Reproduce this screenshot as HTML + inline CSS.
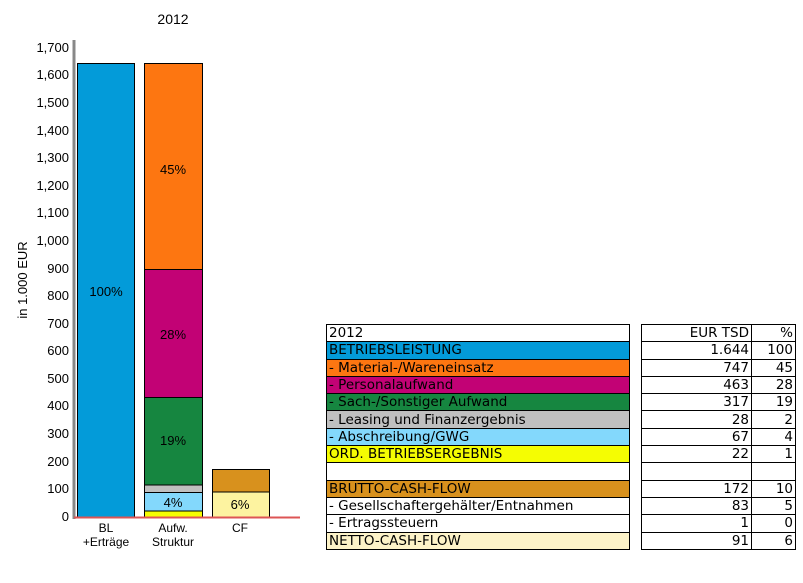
<!DOCTYPE html>
<html><head><meta charset="utf-8"><style>
body{margin:0;background:#fff;width:803px;height:583px;overflow:hidden;font-family:"Liberation Sans",sans-serif}
svg{position:absolute;left:0;top:0}
table{position:absolute;border-collapse:collapse;font-family:"DejaVu Sans","Liberation Sans",sans-serif;font-size:13.5px}
td{border:1px solid #000;height:16.3px;padding:0 2px;line-height:14px;white-space:nowrap;overflow:hidden}
.r td{text-align:right}
</style></head><body>
<svg width="803" height="583" font-family="Liberation Sans, sans-serif" font-size="12">
<text x="173" y="24" text-anchor="middle" font-size="14">2012</text>
<text transform="translate(27,280) rotate(-90)" text-anchor="middle" font-size="13">in 1.000 EUR</text>
<g text-anchor="end" font-size="13">
<text x="69" y="521">0</text><text x="69" y="493">100</text><text x="69" y="466">200</text><text x="69" y="438">300</text><text x="69" y="410">400</text><text x="69" y="383">500</text><text x="69" y="355">600</text><text x="69" y="328">700</text><text x="69" y="300">800</text><text x="69" y="273">900</text><text x="69" y="245">1,000</text><text x="69" y="217">1,100</text><text x="69" y="190">1,200</text><text x="69" y="162">1,300</text><text x="69" y="135">1,400</text><text x="69" y="107">1,500</text><text x="69" y="79">1,600</text><text x="69" y="52">1,700</text>
</g>
<g stroke="#000" stroke-width="1">
<rect x="77.5" y="63.5" width="57" height="453.5" fill="#039bd9"/>
<rect x="144.5" y="63.5" width="58" height="206" fill="#fd7611"/>
<rect x="144.5" y="269.5" width="58" height="128" fill="#c20275"/>
<rect x="144.5" y="397.5" width="58" height="87.5" fill="#168640"/>
<rect x="144.5" y="485" width="58" height="7.5" fill="#c0c0c0"/>
<rect x="144.5" y="492.5" width="58" height="18.5" fill="#83d8fc"/>
<rect x="144.5" y="511" width="58" height="6" fill="#f5fd02"/>
<rect x="212.5" y="469.5" width="57" height="22.5" fill="#d8911d"/>
<rect x="212.5" y="492" width="57" height="25" fill="#fdf3a0"/>
</g>
<line x1="74" y1="40" x2="74" y2="519" stroke="#888" stroke-width="3"/>
<line x1="74" y1="517.5" x2="300" y2="517.5" stroke="#d55" stroke-width="2"/>
<g text-anchor="middle" font-size="13">
<text x="106" y="296">100%</text><text x="173" y="174">45%</text><text x="173" y="339">28%</text><text x="173" y="445">19%</text><text x="173" y="507">4%</text><text x="240" y="509">6%</text>
<text x="106" y="532" font-size="12">BL</text><text x="106" y="546" font-size="12">+Erträge</text>
<text x="173" y="532" font-size="12">Aufw.</text><text x="173" y="546" font-size="12">Struktur</text>
<text x="240" y="532" font-size="12">CF</text>
</g>
</svg>
<table style="left:326px;top:324px;width:304px">
<tr><td>2012</td></tr>
<tr><td style="background:#039bd9">BETRIEBSLEISTUNG</td></tr>
<tr><td style="background:#fd7611">- Material-/Wareneinsatz</td></tr>
<tr><td style="background:#c20275">- Personalaufwand</td></tr>
<tr><td style="background:#168640">- Sach-/Sonstiger Aufwand</td></tr>
<tr><td style="background:#c0c0c0">- Leasing und Finanzergebnis</td></tr>
<tr><td style="background:#83d8fc">- Abschreibung/GWG</td></tr>
<tr><td style="background:#f5fd02">ORD. BETRIEBSERGEBNIS</td></tr>
<tr><td>&nbsp;</td></tr>
<tr><td style="background:#d8911d">BRUTTO-CASH-FLOW</td></tr>
<tr><td>- Gesellschaftergehälter/Entnahmen</td></tr>
<tr><td>- Ertragssteuern</td></tr>
<tr><td style="background:#fdf3c8">NETTO-CASH-FLOW</td></tr>
</table>
<table class="r" style="left:641px;top:324px;width:155px">
<tr><td style="width:105px">EUR TSD</td><td>%</td></tr>
<tr><td>1.644</td><td>100</td></tr>
<tr><td>747</td><td>45</td></tr>
<tr><td>463</td><td>28</td></tr>
<tr><td>317</td><td>19</td></tr>
<tr><td>28</td><td>2</td></tr>
<tr><td>67</td><td>4</td></tr>
<tr><td>22</td><td>1</td></tr>
<tr><td>&nbsp;</td><td></td></tr>
<tr><td>172</td><td>10</td></tr>
<tr><td>83</td><td>5</td></tr>
<tr><td>1</td><td>0</td></tr>
<tr><td>91</td><td>6</td></tr>
</table>
</body></html>
